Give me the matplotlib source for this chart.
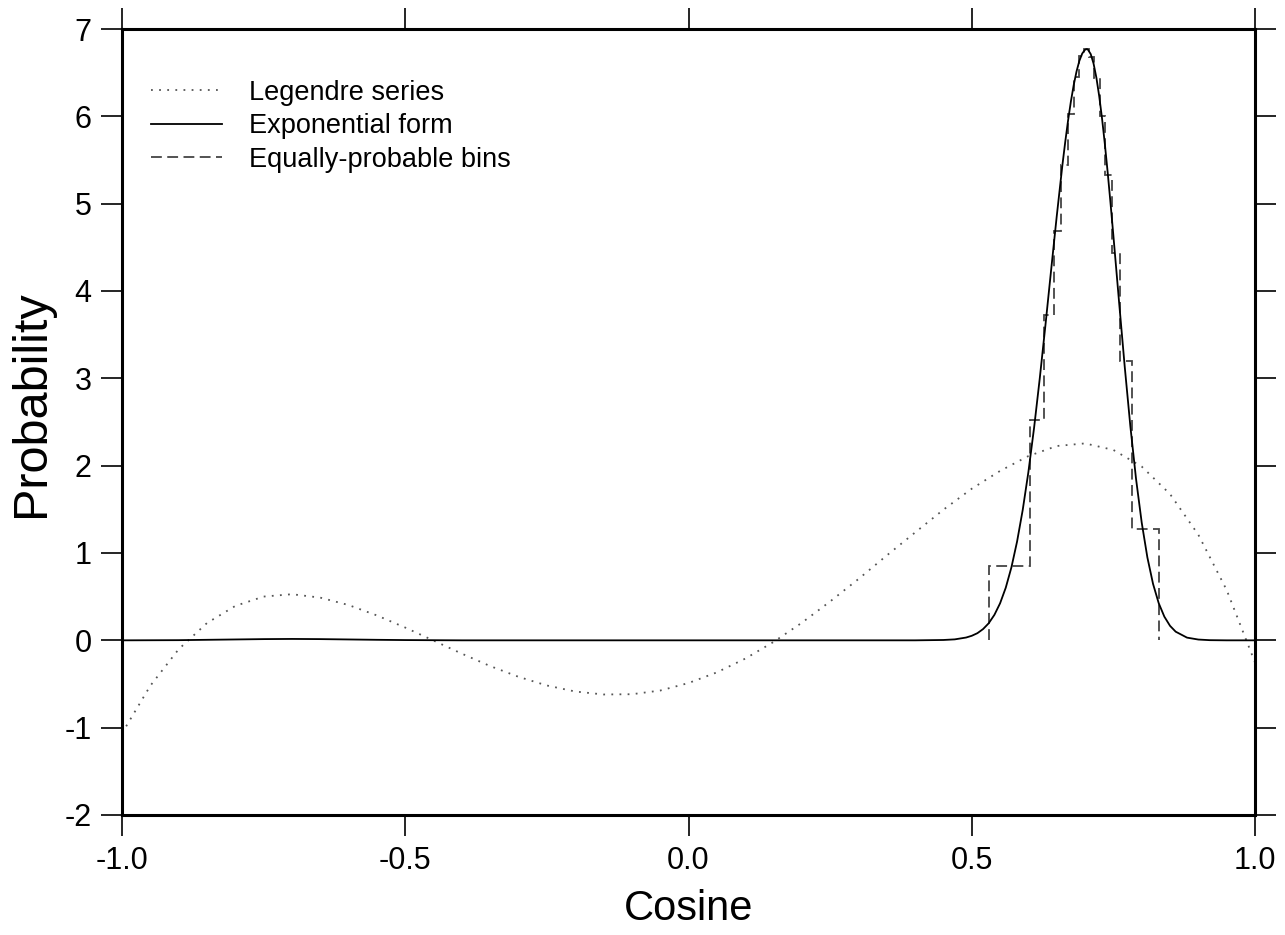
import matplotlib
matplotlib.use("Agg")
import matplotlib.pyplot as plt

plt.rcParams['font.family'] = ['Liberation Sans', 'DejaVu Sans']
plt.rcParams['axes.unicode_minus'] = False

# ---- data ----
legendre_x = [-1.00, -0.95, -0.90, -0.85, -0.80, -0.75, -0.70, -0.65, -0.60, -0.55,
              -0.50, -0.45, -0.40, -0.35, -0.30, -0.25, -0.20, -0.15, -0.10, -0.05,
              0.00, 0.05, 0.10, 0.15, 0.20, 0.25, 0.30, 0.35, 0.40, 0.45,
              0.50, 0.55, 0.60, 0.65, 0.70, 0.75, 0.80, 0.85, 0.90, 0.95, 1.00]
legendre_y = [-1.064, -0.520, -0.102, 0.198, 0.394, 0.501, 0.528, 0.489, 0.404, 0.285,
              0.146, -0.003, -0.153, -0.295, -0.418, -0.517, -0.586, -0.620, -0.617, -0.575,
              -0.489, -0.367, -0.210, -0.019, 0.201, 0.445, 0.702, 0.972, 1.235, 1.496,
              1.736, 1.940, 2.110, 2.225, 2.255, 2.180, 1.990, 1.675, 1.209, 0.576, -0.253]

expo_x = [-1.00, -0.90, -0.85, -0.80, -0.75, -0.70, -0.65, -0.60, -0.55, -0.50,
          -0.40, -0.20, 0.00, 0.20, 0.35, 0.40, 0.45, 0.47, 0.49, 0.50,
          0.51, 0.52, 0.53, 0.54, 0.55, 0.56, 0.57, 0.58, 0.59, 0.60,
          0.61, 0.62, 0.63, 0.64, 0.65, 0.66, 0.665, 0.67, 0.675, 0.68,
          0.685, 0.69, 0.695, 0.70, 0.703, 0.705, 0.71, 0.715, 0.72, 0.725,
          0.73, 0.735, 0.74, 0.745, 0.75, 0.76, 0.77, 0.78, 0.79, 0.80,
          0.81, 0.82, 0.83, 0.84, 0.85, 0.86, 0.88, 0.90, 0.92, 0.95, 1.00]
expo_y = [0.000, 0.002, 0.006, 0.010, 0.014, 0.016, 0.014, 0.010, 0.006, 0.003,
          0.000, 0.000, 0.000, 0.000, 0.000, 0.000, 0.004, 0.011, 0.032, 0.052,
          0.082, 0.129, 0.196, 0.292, 0.424, 0.602, 0.835, 1.131, 1.494, 1.928,
          2.432, 2.996, 3.604, 4.233, 4.855, 5.440, 5.706, 5.951, 6.170, 6.359,
          6.515, 6.636, 6.719, 6.763, 6.770, 6.765, 6.713, 6.605, 6.443, 6.231,
          5.975, 5.680, 5.354, 5.003, 4.635, 3.878, 3.136, 2.450, 1.849, 1.349,
          0.950, 0.647, 0.426, 0.271, 0.166, 0.099, 0.031, 0.009, 0.002, 0.000, 0.000]

bin_edges = [0.530, 0.603, 0.628, 0.645, 0.658, 0.670, 0.680, 0.689, 0.698,
             0.707, 0.716, 0.726, 0.736, 0.748, 0.762, 0.782, 0.8305]
bin_heights = [0.85, 2.52, 3.73, 4.69, 5.44, 6.03, 6.45, 6.69, 6.77,
               6.68, 6.44, 6.00, 5.33, 4.44, 3.20, 1.28]

x_ticks = [-1.0, -0.5, 0.0, 0.5, 1.0]
x_ticklabels = ['-1.0', '-0.5', '0.0', '0.5', '1.0']
y_ticks = [-2, -1, 0, 1, 2, 3, 4, 5, 6, 7]

fig = plt.figure(figsize=(12.85, 9.35), dpi=100)
ax = fig.add_axes([122/1285, 1 - 815/935, (1255-122)/1285, (815-29)/935])

ax.plot(legendre_x, legendre_y, color='#555555', lw=1.3, linestyle=(0, (1, 3.5)),
        label='Legendre series')
ax.plot(expo_x, expo_y, color='black', lw=1.3, label='Exponential form')
ax.stairs(bin_heights, bin_edges, baseline=0, color='#444444', lw=1.3,
          linestyle=(0, (6, 3)), label='Equally-probable bins')

ax.set_xlim(-1, 1)
ax.set_ylim(-2, 7)
ax.set_xticks(x_ticks)
ax.set_xticklabels(x_ticklabels)
ax.set_yticks(y_ticks)
ax.tick_params(direction='out', length=15, width=1.2, labelsize=22,
               top=True, right=True, labeltop=False, labelright=False, pad=7)
for s in ax.spines.values():
    s.set_linewidth(2.2)

ax.set_xlabel('Cosine', fontsize=30, labelpad=10)
ax.set_ylabel('Probability', fontsize=35)
ax.yaxis.set_label_coords(-0.060, 0.523)

leg = ax.legend(loc='upper left', bbox_to_anchor=(-0.0053, 0.980), frameon=False,
                fontsize=19.5, handlelength=2.6, handletextpad=1.0,
                labelspacing=0.27, borderaxespad=0.9)

fig.savefig('out.png', dpi=100)
